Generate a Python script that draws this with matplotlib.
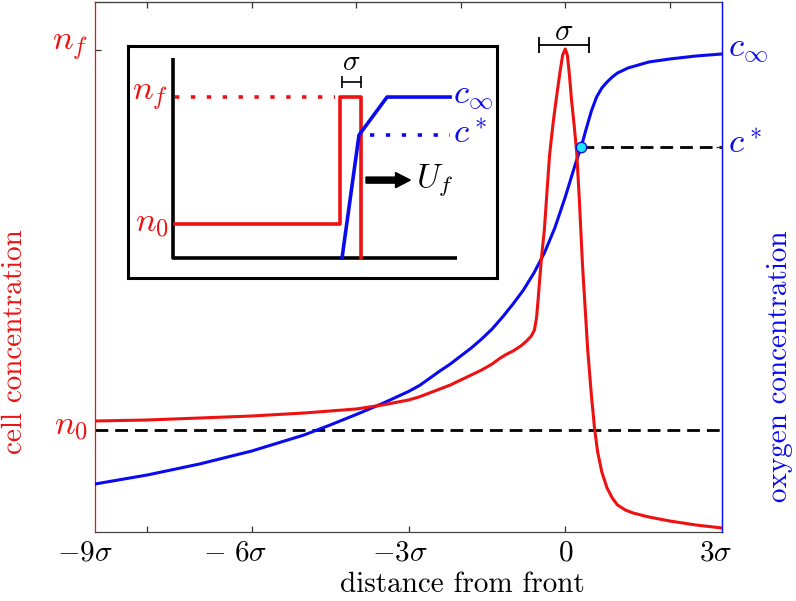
import matplotlib
matplotlib.use("Agg")
import matplotlib.pyplot as plt

plt.rcParams['mathtext.fontset'] = 'cm'
plt.rcParams['font.family'] = 'serif'
plt.rcParams['font.serif'] = ['cmr10']
plt.rcParams['axes.unicode_minus'] = False

RED = '#ee1111'
BLUE = '#0a0af0'

# distance from front in units of sigma; values read in pixels from the top of the axes
cell_x = [-9.0, -8.0, -7.0, -6.0, -5.0, -4.5, -4.0, -3.5, -3.0, -2.8, -2.6, -2.4, -2.2,
          -2.0, -1.8, -1.6, -1.4, -1.27, -1.15, -1.0, -0.85, -0.74, -0.65, -0.59, -0.55,
          -0.52, -0.49, -0.45, -0.40, -0.35, -0.30, -0.23, -0.17, -0.10, -0.05, 0.0, 0.04,
          0.08, 0.12, 0.17, 0.22, 0.27, 0.33, 0.43, 0.50, 0.56, 0.62, 0.70, 0.80, 0.90,
          1.0, 1.15, 1.3, 1.6, 2.0, 2.5, 3.0]
cell_px = [421, 420, 418, 416, 413, 411, 409, 405, 400, 397, 393, 389, 385,
           380, 375, 370, 364, 359, 355, 351, 346, 341, 336, 330, 318,
           300, 280, 255, 230, 192, 155, 122, 98, 72, 55, 49, 55,
           75, 100, 125, 153, 200, 265, 350, 395, 428, 452, 472, 488, 498,
           505, 510, 513, 517, 521, 525, 528]

oxy_x = [-9.0, -8.0, -7.0, -6.0, -5.0, -4.75, -4.5, -4.0, -3.5, -3.0, -2.79, -2.6, -2.4,
         -2.2, -2.0, -1.8, -1.6, -1.4, -1.2, -1.0, -0.8, -0.6, -0.4, -0.2, 0.0, 0.1, 0.2,
         0.31, 0.4, 0.5, 0.6, 0.7, 0.8, 0.9, 1.0, 1.2, 1.4, 1.6, 2.0, 2.5, 3.0]
oxy_px = [484, 475, 464, 451, 435, 430, 425, 414.5, 403.5, 391.5, 385.5, 378.5, 371,
          364, 356, 348, 339, 329, 317, 304, 290, 273, 253, 228, 197, 180, 163,
          146, 129, 111, 97, 88, 82, 77, 73, 68, 65, 62, 59, 56, 54]

AX_TOP, AX_BOT = 2, 532
cell_y = [(AX_BOT - p) / (AX_BOT - AX_TOP) for p in cell_px]
oxy_y = [(AX_BOT - p) / (AX_BOT - AX_TOP) for p in oxy_px]

n0, nf = 0.192, 0.909
c_star, c_inf = 0.726, 0.904
x_cstar = 0.31
sigma_bar = [-0.51, 0.45]

xtick_pos = [-9, -6, -3, 0, 3]
xtick_lab = [r'$-9\sigma$', r'$-\ 6\sigma$', r'$-3\sigma$', r'$0$', r'$3\sigma$']
xtick_dx = [13, 11.5, 13.7, 0, 7.2]   # right-edge offsets (pt)

fig = plt.figure(figsize=(7.96, 6.01), dpi=100)
ax = fig.add_axes([95 / 796, 1 - 532 / 601, 627 / 796, 530 / 601])
ax.set_xlim(-9, 3)
ax.set_ylim(0, 1)

ax.plot(oxy_x, oxy_y, color=BLUE, lw=2.2, zorder=3)
ax.plot(cell_x, cell_y, color=RED, lw=2.2, zorder=4)
ax.plot([-9, 3], [n0, n0], color='k', lw=2, ls=(0, (4.6, 2.5)), zorder=2)
ax.plot([x_cstar, 3], [c_star, c_star], color='k', lw=2, ls=(0, (4.6, 2.5)), zorder=2)
ax.plot([x_cstar], [c_star], 'o', ms=7.5, mfc='#19e6ff', mec=BLUE, mew=1, zorder=5)

# sigma bracket
ax.plot(sigma_bar, [0.919, 0.919], color='k', lw=1.3, marker='|', ms=11, mew=1.3)
ax.text(sum(sigma_bar) / 2, 0.942, r'$\sigma$', fontsize=22, ha='center', va='center')

# spines and ticks
for s in ['top', 'bottom']:
    ax.spines[s].set_color('#444444')
    ax.spines[s].set_linewidth(0.9)
ax.spines['left'].set_color(RED)
ax.spines['right'].set_color(BLUE)
ax.spines['left'].set_linewidth(0.9)
ax.spines['right'].set_linewidth(0.9)

ax.set_xticks([-8, -6, -3, 0])
ax.set_xticklabels([])
ax.set_yticks([n0, nf])
ax.set_yticklabels([])
ax.tick_params(direction='in', length=4, width=0.9, color='#333333', right=False)

top = ax.secondary_xaxis('top')
top.set_xticks([-8, -6, -4, -2, 0, 2])
top.set_xticklabels([])
top.tick_params(direction='in', length=4, width=0.9, color='#333333')
top.spines['top'].set_color('#444444')

ax_r = ax.twinx()
ax_r.set_ylim(0, 1)
ax_r.set_yticks([c_star, c_inf])
ax_r.set_yticklabels([])
ax_r.tick_params(direction='in', length=4, width=0.9, color='#333333')
for s in ['left', 'top', 'bottom']:
    ax_r.spines[s].set_visible(False)
ax_r.spines['right'].set_color(BLUE)
ax_r.spines['right'].set_linewidth(0.9)

for x, lab, dx in zip(xtick_pos, xtick_lab, xtick_dx):
    ax.annotate(lab, xy=(x, 0), xycoords=('data', 'axes fraction'),
                xytext=(dx, -6), textcoords='offset points',
                ha='center' if dx == 0 else 'right', va='top', fontsize=21)

ax.annotate(r'$n_f$', xy=(0, nf), xycoords=('axes fraction', 'data'), xytext=(-5, 2),
            textcoords='offset points', ha='right', va='center', fontsize=25, color=RED)
ax.annotate(r'$n_0$', xy=(0, n0), xycoords=('axes fraction', 'data'), xytext=(-5, 2),
            textcoords='offset points', ha='right', va='center', fontsize=25, color=RED)
ax.annotate(r'$c_\infty$', xy=(1, c_inf), xycoords=('axes fraction', 'data'), xytext=(4, 2),
            textcoords='offset points', ha='left', va='center', fontsize=25, color=BLUE)
ax.annotate(r'$c^*$', xy=(1, c_star), xycoords=('axes fraction', 'data'), xytext=(4, 2),
            textcoords='offset points', ha='left', va='center', fontsize=25, color=BLUE)

fig.text(462 / 796, 1 - 585 / 601, 'distance from front', fontsize=21,
         ha='center', va='center')
fig.text(15 / 796, 1 - 342 / 601, 'cell concentration', fontsize=21, color=RED,
         rotation=90, ha='center', va='center')
fig.text(780 / 796, 1 - 366 / 601, 'oxygen concentration', fontsize=21, color=BLUE,
         rotation=90, ha='center', va='center')

# inset schematic
ins_axis_x = [0.122, 0.122, 0.892]
ins_axis_y = [0.948, 0.086, 0.086]
ins_cell_x = [0.127, 0.575, 0.575, 0.631, 0.631]
ins_cell_y = [0.233, 0.233, 0.780, 0.780, 0.086]
ins_oxy_x = [0.580, 0.626, 0.702, 0.873]
ins_oxy_y = [0.086, 0.616, 0.780, 0.780]

axi = fig.add_axes([128 / 796, 1 - 278 / 601, 369 / 796, 232 / 601])
axi.set_xlim(0, 1)
axi.set_ylim(0, 1)
axi.set_xticks([])
axi.set_yticks([])
for s in axi.spines.values():
    s.set_linewidth(2.2)
axi.plot(ins_axis_x, ins_axis_y, color='k', lw=2.6, solid_capstyle='butt')
axi.plot([0.127, 0.562], [0.780, 0.780], color=RED, lw=2.6, ls=(0, (1.2, 3.2)))
axi.plot([0.656, 0.873], [0.616, 0.616], color=BLUE, lw=2.6, ls=(0, (1.2, 3.2)))
axi.plot(ins_cell_x, ins_cell_y, color=RED, lw=2.6)
axi.plot(ins_oxy_x, ins_oxy_y, color=BLUE, lw=2.6)
axi.plot([0.580, 0.631], [0.845, 0.845], color='k', lw=1.2, marker='|', ms=8, mew=1.2)
axi.text(0.606, 0.87, r'$\sigma$', fontsize=21, ha='center', va='bottom')
axi.arrow(0.645, 0.422, 0.08, 0, width=0.026, head_width=0.065, head_length=0.04,
          color='k', length_includes_head=False)
axi.text(0.78, 0.422, r'$U_f$', fontsize=24, ha='left', va='center')
axi.text(0.11, 0.78, r'$n_f$', fontsize=25, color=RED, ha='right', va='center')
axi.text(0.11, 0.233, r'$n_0$', fontsize=25, color=RED, ha='right', va='center')
axi.text(0.882, 0.78, r'$c_\infty$', fontsize=25, color=BLUE, ha='left', va='center')
axi.text(0.882, 0.616, r'$c^*$', fontsize=25, color=BLUE, ha='left', va='center')

fig.savefig('out.png', dpi=100)
